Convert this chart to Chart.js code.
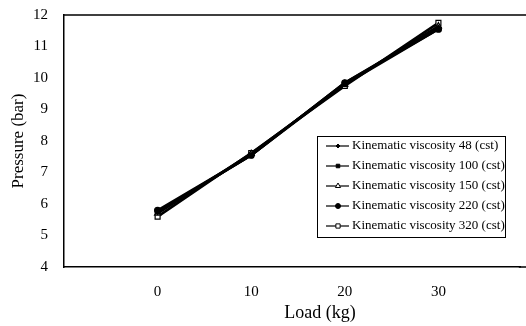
<!DOCTYPE html>
<html lang="en">
<head>
<meta charset="UTF-8">
<title>Pressure vs Load</title>
<script src="https://cdn.jsdelivr.net/npm/chart.js"></script>
<style>
  html, body { margin: 0; padding: 0; background: #fff; }
  #wrap { width: 526px; height: 326px; position: relative; }
</style>
</head>
<body>
<div id="wrap"><canvas id="chart"></canvas></div>
<script>
// data
const loads = [0, 10, 20, 30];
const xTicks = [0, 10, 20, 30];
const yTicks = [4, 5, 6, 7, 8, 9, 10, 11, 12];
const seriesNames = [
  'Kinematic viscosity 48 (cst)',
  'Kinematic viscosity 100 (cst)',
  'Kinematic viscosity 150 (cst)',
  'Kinematic viscosity 220 (cst)',
  'Kinematic viscosity 320 (cst)'
];
const visc48  = [5.75, 7.55, 9.85, 11.6];
const visc100 = [5.75, 7.55, 9.8, 11.55];
const visc150 = [5.7, 7.6, 9.8, 11.65];
const visc220 = [5.8, 7.55, 9.85, 11.55];
const visc320 = [5.6, 7.62, 9.75, 11.75];

const serif = "'Liberation Serif', 'DejaVu Serif', serif";

const markers = [
  { style: 'rectRot', r: 2.5, fill: '#000' },
  { style: 'rect', r: 3, fill: '#000' },
  { style: 'triangle', r: 3.5, fill: '#fff' },
  { style: 'circle', r: 3, fill: '#000' },
  { style: 'rect', r: 3.5, fill: '#fff' }
];

function makeSet(name, vals, i) {
  return {
    label: name,
    data: loads.map((x, k) => ({ x: x, y: vals[k] })),
    borderColor: '#000',
    borderWidth: 2.5,
    pointStyle: markers[i].style,
    pointRadius: markers[i].r,
    pointBackgroundColor: markers[i].fill,
    pointBorderColor: '#000',
    pointBorderWidth: 1.2,
    tension: 0
  };
}

// legend box with a border, frame lines running to the edge, x title
const framePlugin = {
  id: 'frame',
  afterDraw(chart) {
    const c = chart.ctx, a = chart.chartArea;
    c.save();
    c.strokeStyle = '#000';
    c.lineWidth = 1.5;
    c.beginPath();
    c.moveTo(a.left, a.top);
    c.lineTo(chart.width, a.top);
    c.moveTo(a.right - 2, a.bottom);
    c.lineTo(chart.width, a.bottom);
    c.stroke();

    c.fillStyle = '#000';
    c.font = '18px ' + serif;
    c.textAlign = 'center';
    c.textBaseline = 'middle';
    c.fillText('Load (kg)', 320, 313);

    // legend
    const bx = 317, by = 136, bw = 188, bh = 101;
    c.fillStyle = '#fff';
    c.fillRect(bx, by, bw, bh);
    c.lineWidth = 1;
    c.strokeRect(bx + 0.5, by + 0.5, bw, bh);
    c.font = '13px ' + serif;
    c.textAlign = 'left';
    chart.data.datasets.forEach((ds, i) => {
      const y = by + 10 + i * 20;
      c.strokeStyle = '#000';
      c.lineWidth = 1.2;
      c.beginPath();
      c.moveTo(bx + 9, y);
      c.lineTo(bx + 32, y);
      c.stroke();
      c.fillStyle = markers[i].fill;
      c.lineWidth = 1;
      Chart.helpers.drawPoint(c, { pointStyle: markers[i].style, radius: markers[i].r - 0.5, rotation: 0, borderWidth: 1 }, bx + 21, y);
      c.fillStyle = '#000';
      c.fillText(ds.label, bx + 35, y);
    });
    c.restore();
  }
};

new Chart(document.getElementById('chart'), {
  type: 'line',
  data: {
    datasets: [
      makeSet(seriesNames[0], visc48, 0),
      makeSet(seriesNames[1], visc100, 1),
      makeSet(seriesNames[2], visc150, 2),
      makeSet(seriesNames[3], visc220, 3),
      makeSet(seriesNames[4], visc320, 4)
    ]
  },
  options: {
    responsive: true,
    maintainAspectRatio: false,
    animation: false,
    layout: { padding: { top: 15, right: 0, left: 0, bottom: 0 } },
    plugins: { legend: { display: false }, tooltip: { enabled: false } },
    scales: {
      x: {
        type: 'linear',
        min: -10,
        max: 38.8,
        afterBuildTicks: s => { s.ticks = xTicks.map(v => ({ value: v })); },
        afterFit: s => { s.height = 59; s.paddingLeft = 0; s.paddingRight = 0; },
        grid: { display: false, drawTicks: false },
        border: { display: true, color: '#000', width: 1.5 },
        ticks: { color: '#000', font: { family: serif, size: 15 }, padding: 16, maxRotation: 0 }
      },
      y: {
        min: 4,
        max: 12,
        afterBuildTicks: s => { s.ticks = yTicks.map(v => ({ value: v })); },
        afterFit: s => { s.width = 64; s.paddingTop = 0; s.paddingBottom = 0; },
        grid: { display: false, drawTicks: false },
        border: { display: true, color: '#000', width: 1.5 },
        ticks: { color: '#000', font: { family: serif, size: 15 }, padding: 16 },
        title: { display: true, text: 'Pressure (bar)', color: '#000', font: { family: serif, size: 17 }, padding: { top: 8, bottom: 0 } }
      }
    }
  },
  plugins: [framePlugin]
});
</script>
</body>
</html>
